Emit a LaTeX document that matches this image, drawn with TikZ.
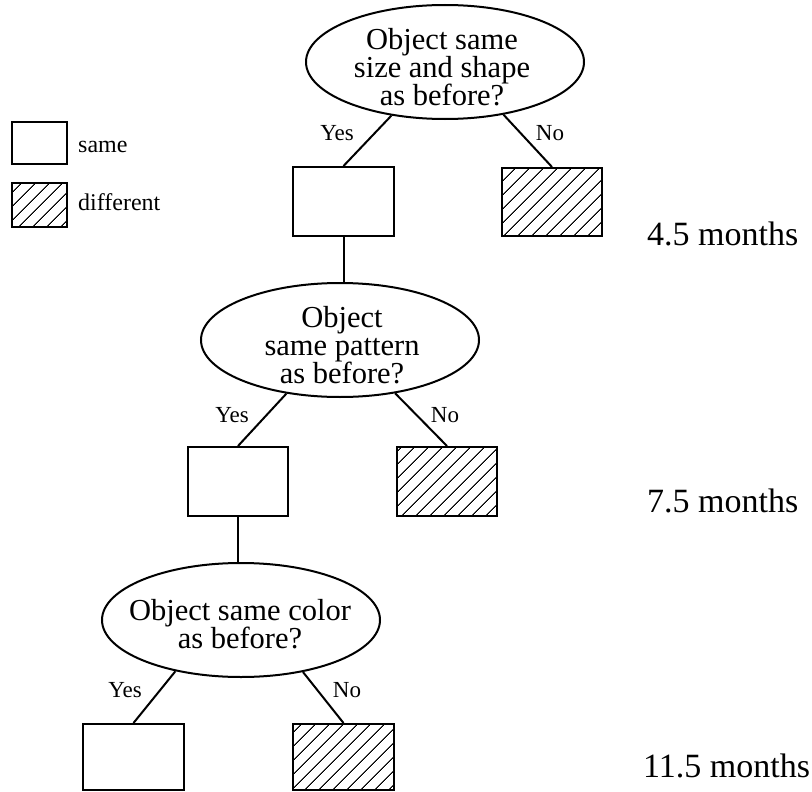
\documentclass[tikz,border=0pt]{standalone}
\usepackage{fontspec}
\setmainfont{Liberation Serif}
\usetikzlibrary{shapes.geometric,patterns.meta}
\tikzset{
  qell/.style={draw, ellipse, line width=2pt, minimum width=278pt, minimum height=114pt, inner sep=0pt},
  qtext/.style={align=center, inner sep=0pt, font=\fontsize{30.5}{28}\selectfont},
  samebox/.style={draw, rectangle, line width=2pt, inner sep=0pt},
  diffbox/.style={samebox, pattern={Lines[angle=45,distance=10.5pt,line width=1.1pt]}},
  conn/.style={line width=2pt},
  lab/.style={anchor=base, inner sep=0pt, font=\fontsize{23}{26}\selectfont},
  months/.style={anchor=base west, inner sep=0pt, font=\fontsize{34}{38}\selectfont},
  legtext/.style={anchor=base west, inner sep=0pt, font=\fontsize{24}{28}\selectfont},
}
\begin{document}
\begin{tikzpicture}[x=1pt,y=-1pt]
\fill[white] (0,0) rectangle (812,792);
\useasboundingbox (0,0) rectangle (812,792);

% legend
\node[samebox, minimum width=55pt, minimum height=42pt] (ls) at (39.5,143) {};
\node[diffbox, minimum width=55pt, minimum height=44pt] (ld) at (39.5,205) {};
\node[legtext] (lst) at (78,153) {same};
\node[legtext] (ldt) at (78,210) {different};

% level 1
\node[qell] (q1) at (445,62) {};
\node[qtext] (q1t) at (442,67) {Object same\\size and shape\\as before?};
\node[samebox, minimum width=101pt, minimum height=69pt] (b1s) at (343.5,201.5) {};
\node[diffbox, minimum width=100pt, minimum height=68pt] (b1d) at (552,202) {};
\draw[conn] (q1.225) -- (b1s.north);
\draw[conn] (q1.318) -- (b1d.north);
\node[lab] (y1) at (337,140) {Yes};
\node[lab] (n1) at (550,140) {No};
\node[months] (m1) at (647,245) {4.5 months};

% level 2
\node[qell] (q2) at (340,340) {};
\node[qtext] (q2t) at (342,345) {Object\\same pattern\\as before?};
\draw[conn] (b1s.south) -- (b1s.south |- q2.north);
\node[samebox, minimum width=100pt, minimum height=69pt] (b2s) at (238,481.5) {};
\node[diffbox, minimum width=100pt, minimum height=69pt] (b2d) at (447,481.5) {};
\draw[conn] (q2.225) -- (b2s.north);
\draw[conn] (q2.316) -- (b2d.north);
\node[lab] (y2) at (232,422) {Yes};
\node[lab] (n2) at (445,422) {No};
\node[months] (m2) at (647,512) {7.5 months};

% level 3
\node[qell] (q3) at (241,620) {};
\node[qtext] (q3t) at (240,624.5) {Object same color\\as before?};
\draw[conn] (b2s.south) -- (b2s.south |- q3.north);
\node[samebox, minimum width=101pt, minimum height=66pt] (b3s) at (133.5,757) {};
\node[diffbox, minimum width=101pt, minimum height=66pt] (b3d) at (343.5,757) {};
\draw[conn] (q3.218) -- (b3s.north);
\draw[conn] (q3.320) -- (b3d.north);
\node[lab] (y3) at (125,697) {Yes};
\node[lab] (n3) at (347,697) {No};
\node[months] (m3) at (643,777) {11.5 months};
\end{tikzpicture}
\end{document}
